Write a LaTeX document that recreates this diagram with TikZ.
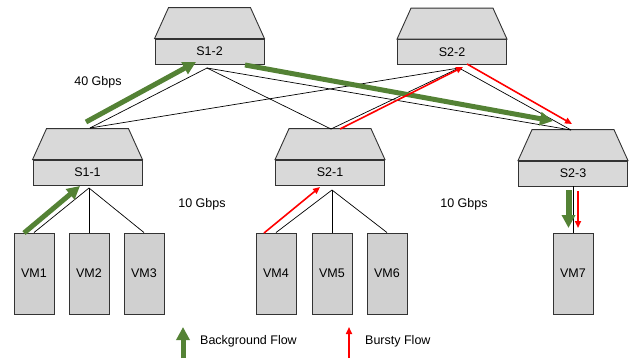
\documentclass[tikz,border=0pt]{standalone}
\usepackage{fontspec}
\setmainfont{Liberation Sans}
\usetikzlibrary{arrows.meta,calc}
\definecolor{bggreen}{HTML}{548235}
\definecolor{swfill}{HTML}{D9D9D9}
\definecolor{vmfill}{HTML}{D0D0D0}
\definecolor{edge}{HTML}{333333}
\tikzset{
  swbox/.style={draw=edge,line width=0.9pt,fill=swfill,minimum width=109pt,minimum height=25pt,inner sep=0pt,font=\fontsize{12.5}{15}\selectfont},
  swtop/.style={draw=edge,line width=0.9pt,fill=swfill},
  vmbox/.style={draw=edge,line width=0.9pt,fill=vmfill,minimum width=40pt,minimum height=81pt,inner sep=0pt,font=\fontsize{12.5}{15}\selectfont},
  link/.style={draw=black,line width=0.7pt},
  greenflow/.style={draw=bggreen,line width=5pt,-{Triangle[length=13pt,width=13pt]}},
  redflow/.style={draw=red,line width=1.6pt,-{Triangle[length=7pt,width=6pt]}},
  lbl/.style={font=\fontsize{12.5}{15}\selectfont,inner sep=0pt}
}
\newcommand{\swtrap}[1]{\path[swtop] (#1.north west) -- ++(14,-31) -- ($(#1.north east)+(-14,-31)$) -- (#1.north east) -- cycle;}
\begin{document}
\begin{tikzpicture}[x=1pt,y=-1pt]
\useasboundingbox (0,0) rectangle (636,359);
% switches
\node[swbox] (s12) at (209.5,51.5) {S1-2}; \swtrap{s12}
\node[swbox] (s22) at (452,52) {S2-2}; \swtrap{s22}
\node[swbox] (s11) at (87.5,172.5) {S1-1}; \swtrap{s11}
\node[swbox] (s21) at (330,172.5) {S2-1}; \swtrap{s21}
\node[swbox] (s23) at (573,173.5) {S2-3}; \swtrap{s23}
% VMs
\node[vmbox] (vm1) at (34,273.5) {VM1};
\node[vmbox] (vm2) at (89,273.5) {VM2};
\node[vmbox] (vm3) at (144,273.5) {VM3};
\node[vmbox] (vm4) at (276,273.5) {VM4};
\node[vmbox] (vm5) at (332,273.5) {VM5};
\node[vmbox] (vm6) at (387,273.5) {VM6};
\node[vmbox] (vm7) at (573,273.5) {VM7};
% link points
\coordinate (s12b) at (207,68);
\coordinate (s22b) at (459,68);
\coordinate (s11t) at (90,128);
\coordinate (s21t) at (331,129);
\coordinate (s23t) at (571,130);
\coordinate (s11b) at (89,188);
\coordinate (s21b) at (332,190);
% links
\draw[link] (s11t) -- (s12b);
\draw[link] (s11t) -- (s22b);
\draw[link] (s21t) -- (s12b);
\draw[link] (s21t) -- (s22b);
\draw[link] (s23t) -- (s12b);
\draw[link] (s23t) -- (s22b);
\draw[link] (s11b) -- (vm1.north);
\draw[link] (s11b) -- (vm2.north);
\draw[link] (s11b) -- (vm3.north);
\draw[link] (s21b) -- (vm4.north);
\draw[link] (s21b) -- (vm5.north);
\draw[link] (s21b) -- (vm6.north);
\draw[link] (s23.south) -- (vm7.north);
% flow end points
\coordinate (g1s) at (86,122); \coordinate (g1e) at (196,62);
\coordinate (g2s) at (245,65); \coordinate (g2e) at (553,121);
\coordinate (g3s) at (24,233); \coordinate (g3e) at (80,186);
\coordinate (g4s) at (568.5,190); \coordinate (g4e) at (568.5,228);
\coordinate (r1s) at (264,233); \coordinate (r1e) at (320,187);
\coordinate (r2s) at (340,129); \coordinate (r2e) at (463,67);
\coordinate (r3s) at (467,64); \coordinate (r3e) at (572,124);
\coordinate (r4s) at (578,191); \coordinate (r4e) at (578,228);
% flows
\draw[greenflow] (g1s) -- (g1e);
\draw[greenflow] (g2s) -- (g2e);
\draw[greenflow] (g3s) -- (g3e);
\draw[greenflow,line width=6pt] (g4s) -- (g4e);
\draw[redflow] (r1s) -- (r1e);
\draw[redflow] (r2s) -- (r2e);
\draw[redflow] (r3s) -- (r3e);
\draw[redflow] (r4s) -- (r4e);
% labels
\node[lbl] (l40) at (98,82) {40 Gbps};
\node[lbl] (l10a) at (202,204) {10 Gbps};
\node[lbl] (l10b) at (464,204) {10 Gbps};
% legend
\coordinate (lg1s) at (183,358); \coordinate (lg1e) at (183,327);
\coordinate (lg2s) at (349,358); \coordinate (lg2e) at (349,327);
\draw[greenflow] (lg1s) -- (lg1e);
\draw[redflow] (lg2s) -- (lg2e);
\node[lbl,anchor=west] (lgt1) at (200,341) {Background Flow};
\node[lbl,anchor=west] (lgt2) at (365,341) {Bursty Flow};
\end{tikzpicture}
\end{document}
